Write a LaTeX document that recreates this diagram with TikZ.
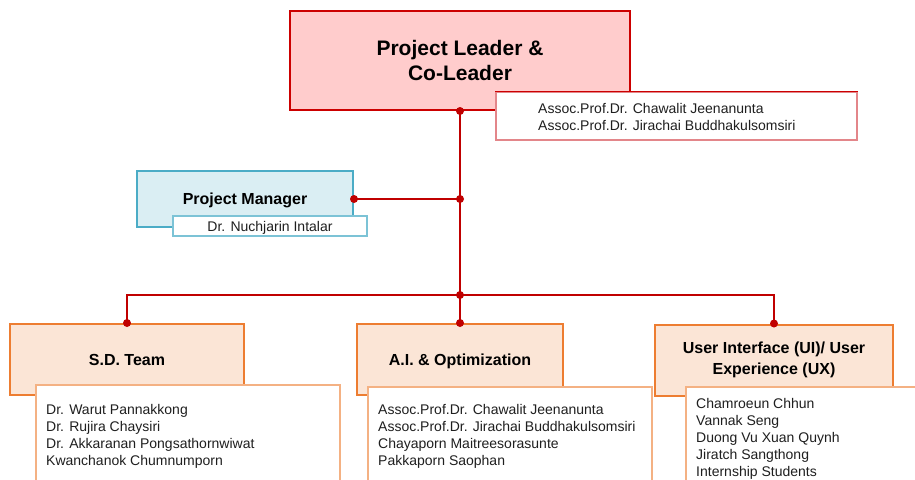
\documentclass[tikz,border=0pt]{standalone}
\usepackage{fontspec}
\setmainfont{Liberation Sans}
\definecolor{linkred}{HTML}{C00000}
\definecolor{leadfill}{HTML}{FFCCCC}
\definecolor{leadline}{HTML}{CC0000}
\definecolor{leadnameline}{HTML}{E3868A}
\definecolor{pmfill}{HTML}{DAEEF3}
\definecolor{pmline}{HTML}{4BACC6}
\definecolor{pmnameline}{HTML}{7CC3D6}
\definecolor{teamfill}{HTML}{FBE5D6}
\definecolor{teamline}{HTML}{ED7D31}
\definecolor{teamnameline}{HTML}{F4B183}
\definecolor{ink}{HTML}{1F1F1F}
\tikzset{
  box/.style={rectangle, inner sep=0pt, align=center, text=black},
  oneline/.style={text height=11.5pt, text depth=0pt},
  leadbox/.style={box, fill=leadfill, draw=leadline, line width=2pt,
    font=\fontsize{21}{25}\selectfont\bfseries},
  pmbox/.style={box, oneline, fill=pmfill, draw=pmline, line width=2pt,
    font=\fontsize{16}{19}\selectfont\bfseries},
  teambox/.style={box, fill=teamfill, draw=teamline, line width=2pt,
    font=\fontsize{16}{21}\selectfont\bfseries},
  namebox/.style={rectangle, inner sep=0pt, fill=white, line width=1.5pt},
  nametext/.style={inner sep=0pt, anchor=base west, text=ink,
    font=\fontsize{14}{17}\selectfont},
  link/.style={draw=linkred, line width=2pt},
  jdot/.style={fill=linkred},
}
\begin{document}
\begin{tikzpicture}[x=1pt, y=-1pt]
\useasboundingbox (0,0) rectangle (915,479);
\clip (0,0) rectangle (915,479);

% --- leadership ---
\node[leadbox, minimum width=340pt, minimum height=99pt] (lead) at (460,60.5)
  {Project Leader \&\\Co-Leader};
\node[namebox, draw=leadnameline, minimum width=361pt, minimum height=48pt] (leadnames) at (676.5,116) {};
\draw[leadline, line width=1.5pt] (leadnames.north west) -- (leadnames.north east);
\node[nametext] (lead1) at (538,113) {Assoc.Prof.Dr. Chawalit Jeenanunta};
\node[nametext] (lead2) at (538,130) {Assoc.Prof.Dr. Jirachai Buddhakulsomsiri};

% --- project manager ---
\node[pmbox, minimum width=216pt, minimum height=56pt] (pm) at (245,199) {Project Manager};
\node[namebox, draw=pmnameline, minimum width=194pt, minimum height=20pt] (pmname) at (270,226) {};
\node[nametext, anchor=base] (pm1) at (270,231.5) {Dr. Nuchjarin Intalar};

% --- teams ---
\node[teambox, oneline, minimum width=234pt, minimum height=71pt] (sd) at (127,359.5) {S.D. Team};
\node[teambox, oneline, minimum width=206pt, minimum height=71pt] (ai) at (460,359.5) {A.I. \& Optimization};
\node[teambox, minimum width=238pt, minimum height=71pt] (ui) at (774,360)
  {User Interface (UI)/ User\\Experience (UX)};

\node[namebox, draw=teamnameline, minimum width=304pt, minimum height=104pt] (sdnames) at (188,437) {};
\node[namebox, draw=teamnameline, minimum width=284pt, minimum height=102pt] (ainames) at (510,438) {};
\node[namebox, draw=teamnameline, minimum width=239pt, minimum height=102pt] (uinames) at (805.5,438) {};

\foreach \who [count=\k from 0] in {Dr. Warut Pannakkong, Dr. Rujira Chaysiri,
    Dr. Akkaranan Pongsathornwiwat, Kwanchanok Chumnumporn}
  \node[nametext] (sd\k) at (46,414+17*\k) {\who};
\foreach \who [count=\k from 0] in {Assoc.Prof.Dr. Chawalit Jeenanunta,
    Assoc.Prof.Dr. Jirachai Buddhakulsomsiri, Chayaporn Maitreesorasunte, Pakkaporn Saophan}
  \node[nametext] (ai\k) at (378,414+17*\k) {\who};
\foreach \who [count=\k from 0] in {Chamroeun Chhun, Vannak Seng, Duong Vu Xuan Quynh,
    Jiratch Sangthong, Internship Students}
  \node[nametext] (ui\k) at (696,408+17*\k) {\who};

% --- connectors ---
\coordinate (j1) at (460,199);
\coordinate (j2) at (460,295);
\draw[link] (lead.south) -- (j2);
\draw[link] (pm.east) -- (j1);
\draw[link] (j2) -| (sd.north);
\draw[link] (j2) -- (ai.north);
\draw[link] (j2) -| (ui.north);

\foreach \p in {lead.south, j1, pm.east, j2, sd.north, ai.north, ui.north}
  \fill[jdot] (\p) circle (4);
\end{tikzpicture}
\end{document}
